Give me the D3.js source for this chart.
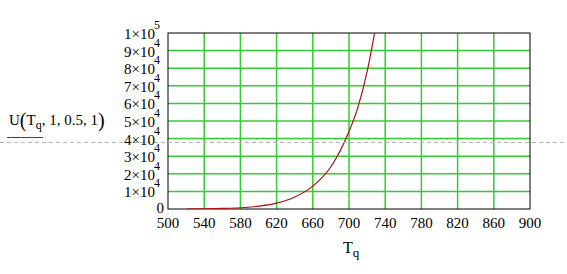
<!DOCTYPE html>
<html>
<head>
<meta charset="utf-8">
<script src="https://cdn.jsdelivr.net/npm/d3@7"></script>
<style>
  body { margin: 0; background: #fff; }
  svg { display: block; font-family: "Liberation Serif", "DejaVu Serif", serif; }
</style>
</head>
<body>
<svg id="chart" width="567" height="274"></svg>
<script>
'use strict';

// values
var temps  = [520, 540, 560, 580, 600, 620, 640, 660, 680, 700, 710, 720, 730];
var uVals  = [0, 100, 300, 700, 1600, 3300, 6800, 13000, 24000, 44000, 58000, 78000, 105000];
var xTicks = [500, 540, 580, 620, 660, 700, 740, 780, 820, 860, 900];
var yTicks = [0, 10000, 20000, 30000, 40000, 50000, 60000, 70000, 80000, 90000, 100000];

var svg = d3.select('#chart');
var plotL = 168, plotR = 530, plotT = 33, plotB = 209;

var x = d3.scaleLinear().domain([500, 900]).range([plotL, plotR]);
var y = d3.scaleLinear().domain([0, 100000]).range([plotB, plotT]);

svg.append('defs').append('clipPath').attr('id', 'clip')
    .append('rect').attr('x', plotL).attr('y', plotT)
    .attr('width', plotR - plotL).attr('height', plotB - plotT);

// grid
svg.append('g').selectAll('line')
    .data(xTicks.slice(1, -1))
    .enter().append('line')
    .attr('x1', function(d){ return x(d); }).attr('x2', function(d){ return x(d); })
    .attr('y1', plotT).attr('y2', plotB)
    .attr('stroke', '#33cc33').attr('stroke-width', 1.5);

svg.append('g').selectAll('line')
    .data(yTicks.slice(1, -1))
    .enter().append('line')
    .attr('x1', plotL).attr('x2', plotR)
    .attr('y1', function(d){ return y(d); }).attr('y2', function(d){ return y(d); })
    .attr('stroke', '#33cc33').attr('stroke-width', 1.5);

// frame
svg.append('rect')
    .attr('x', plotL).attr('y', plotT)
    .attr('width', plotR - plotL).attr('height', plotB - plotT)
    .attr('fill', 'none').attr('stroke', '#000').attr('stroke-width', 1);

// curve
var line = d3.line()
    .x(function(d, i){ return x(temps[i]); })
    .y(function(d){ return y(d); })
    .curve(d3.curveMonotoneX);

svg.append('path')
    .datum(uVals)
    .attr('clip-path', 'url(#clip)')
    .attr('d', line)
    .attr('fill', 'none')
    .attr('stroke', '#b01010')
    .attr('stroke-width', 1.2);

// dashed trace line
svg.append('line')
    .attr('x1', 0).attr('x2', 567)
    .attr('y1', 142.5).attr('y2', 142.5)
    .attr('stroke', '#b4b4b4').attr('stroke-dasharray', '4,3');

// x tick labels
svg.append('g').selectAll('text')
    .data(xTicks)
    .enter().append('text')
    .attr('x', function(d){ return x(d); })
    .attr('y', 228)
    .attr('text-anchor', 'middle')
    .attr('font-size', 15)
    .text(function(d){ return d; });

// y tick labels
var yl = svg.append('g').selectAll('text')
    .data(yTicks)
    .enter().append('text')
    .attr('x', function(d){ return d === 0 ? 164 : 160; })
    .attr('y', function(d){ return d === 0 ? y(d) + 4 : y(d) + 6; })
    .attr('text-anchor', 'end')
    .attr('font-size', 15);

yl.each(function(d){
    var t = d3.select(this);
    if (d === 0) { t.text('0'); return; }
    var e = Math.floor(Math.log10(d) + 1e-9);
    var m = Math.round(d / Math.pow(10, e));
    t.append('tspan').text(m + '\u00d710');
    t.append('tspan').attr('dy', -10).attr('dx', -1).attr('font-size', 12).text(e);
});

// axis title
var xt = svg.append('text')
    .attr('x', 343).attr('y', 253)
    .attr('font-size', 16);
xt.append('tspan').text('T');
xt.append('tspan').attr('dy', 4).attr('font-size', 13).text('q');

// legend label
var lt = svg.append('text')
    .attr('x', 9).attr('y', 125)
    .attr('font-size', 15);
lt.append('tspan').text('U');
lt.append('tspan').attr('font-size', 20).attr('dy', 2).text('(');
lt.append('tspan').attr('dy', -2).text('T');
lt.append('tspan').attr('font-size', 12).attr('dy', 4).text('q');
lt.append('tspan').attr('dy', -4).text(', 1, 0.5, 1');
lt.append('tspan').attr('font-size', 20).attr('dy', 2).text(')');

svg.append('line')
    .attr('x1', 7).attr('x2', 43)
    .attr('y1', 137.5).attr('y2', 137.5)
    .attr('stroke', '#b01010').attr('stroke-width', 1.2);
</script>
</body>
</html>
